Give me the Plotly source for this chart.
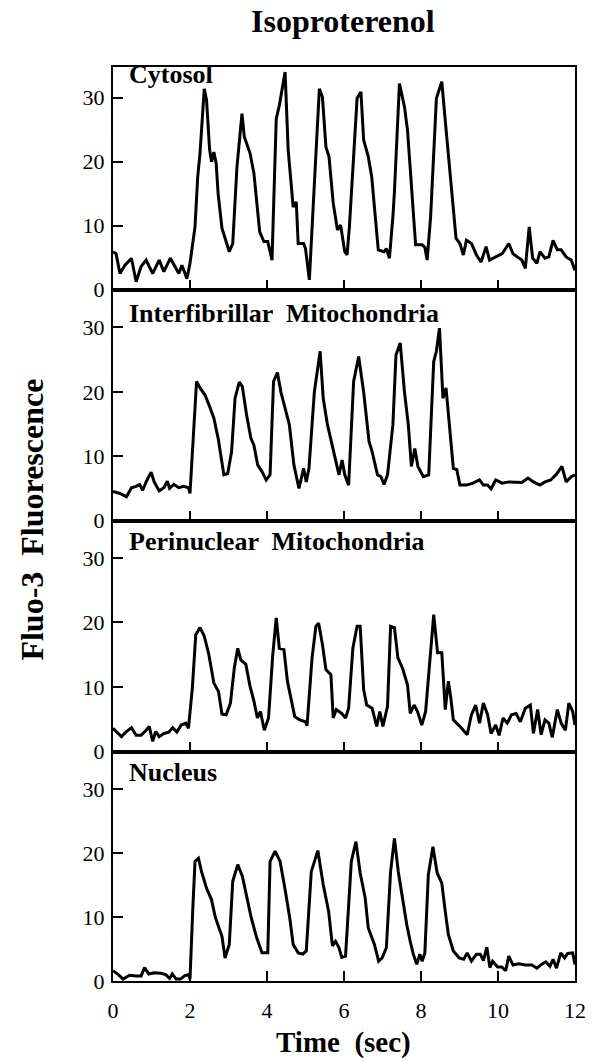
import plotly.graph_objects as go

# ---------------- data ----------------
cyto_t = [0.0, 0.08, 0.18, 0.31, 0.48, 0.60, 0.73, 0.86, 1.03, 1.20, 1.32, 1.49, 1.71, 1.79, 1.92, 2.00,
          2.13, 2.20, 2.26, 2.37, 2.43, 2.51, 2.56, 2.62, 2.68, 2.73, 2.83, 3.02, 3.11, 3.22, 3.35, 3.41,
          3.56, 3.66, 3.81, 3.92, 4.02, 4.13, 4.24, 4.32, 4.47, 4.55, 4.68, 4.76, 4.81, 4.95, 5.00, 5.10,
          5.19, 5.36, 5.44, 5.53, 5.61, 5.72, 5.83, 5.91, 6.02, 6.08, 6.14, 6.34, 6.44, 6.51, 6.63, 6.72,
          6.89, 7.04, 7.10, 7.18, 7.27, 7.31, 7.44, 7.57, 7.65, 7.74, 7.86, 8.03, 8.10, 8.16, 8.25, 8.40,
          8.54, 8.63, 8.74, 8.91, 9.01, 9.10, 9.18, 9.31, 9.44, 9.56, 9.69, 9.78, 9.94, 10.11, 10.28,
          10.39, 10.50, 10.62, 10.71, 10.81, 10.90, 11.01, 11.09, 11.22, 11.32, 11.43, 11.54, 11.64,
          11.77, 11.90, 12.0]
cyto_v = [5.9, 5.6, 2.5, 3.8, 4.9, 1.2, 3.6, 4.6, 2.5, 4.6, 2.8, 4.9, 2.5, 3.8, 1.7, 4.1,
          9.8, 17.6, 21.3, 31.4, 29.6, 21.8, 20.0, 21.5, 19.7, 15.0, 9.6, 5.9, 7.2, 19.2, 27.5, 23.9,
          21.3, 18.2, 9.0, 7.5, 7.5, 4.6, 26.7, 28.8, 34.0, 21.8, 12.9, 13.7, 7.2, 7.2, 6.4, 1.5,
          11.9, 31.4, 30.1, 22.3, 20.8, 13.5, 9.3, 10.1, 5.9, 5.4, 9.8, 29.9, 30.9, 23.4, 20.8, 17.6,
          6.2, 5.9, 6.4, 4.9, 11.4, 15.3, 32.2, 28.6, 24.9, 17.6, 7.0, 7.0, 6.6, 4.6, 11.4, 29.9,
          32.5, 26.4, 18.7, 8.0, 7.2, 5.4, 7.7, 7.2, 5.4, 4.3, 6.7, 4.6, 5.1, 5.6, 7.2,
          5.6, 5.1, 4.6, 3.3, 9.8, 4.9, 4.1, 5.9, 4.9, 5.1, 7.7, 6.2, 6.2,
          5.1, 4.6, 3.0]

inter_t = [0.0, 0.18, 0.35, 0.48, 0.60, 0.69, 0.77, 0.86, 0.99, 1.07, 1.20, 1.32, 1.41, 1.47, 1.58, 1.71,
           1.83, 1.96, 2.00, 2.09, 2.17, 2.26, 2.39, 2.51, 2.62, 2.73, 2.88, 2.98, 3.08, 3.17, 3.28, 3.36,
           3.47, 3.58, 3.66, 3.76, 3.87, 3.98, 4.08, 4.17, 4.27, 4.36, 4.47, 4.58, 4.70, 4.83, 4.95, 5.02,
           5.09, 5.23, 5.38, 5.46, 5.57, 5.72, 5.87, 5.95, 6.02, 6.12, 6.25, 6.38, 6.51, 6.65, 6.73, 6.87,
           6.96, 7.04, 7.13, 7.27, 7.35, 7.46, 7.57, 7.67, 7.75, 7.84, 7.92, 8.06, 8.20, 8.33, 8.40, 8.48,
           8.57, 8.65, 8.74, 8.84, 8.93, 9.01, 9.18, 9.35, 9.52, 9.62, 9.73, 9.82, 9.94, 10.11, 10.28,
           10.45, 10.62, 10.78, 10.92, 11.09, 11.22, 11.37, 11.52, 11.66, 11.77, 11.90, 12.0]
inter_v = [4.5, 4.2, 3.7, 5.1, 5.3, 5.6, 4.7, 6.0, 7.5, 6.0, 4.6, 5.1, 6.1, 5.0, 5.6, 5.1,
           5.3, 5.1, 4.2, 13.3, 21.6, 20.6, 19.5, 17.7, 15.9, 12.8, 7.1, 7.3, 10.7, 19.0, 21.5, 20.8,
           16.4, 12.8, 11.7, 8.6, 7.6, 6.3, 7.1, 21.6, 23.0, 20.0, 17.4, 14.9, 8.6, 5.0, 8.1, 6.0,
           8.1, 20.0, 26.3, 19.0, 14.9, 11.2, 7.1, 9.4, 7.1, 5.5, 21.6, 25.5, 20.0, 12.3, 10.7, 7.1,
           6.8, 5.6, 7.1, 14.9, 25.7, 27.6, 20.0, 14.9, 8.4, 11.2, 8.4, 6.8, 7.1, 24.7, 26.3, 29.9,
           19.0, 20.6, 14.9, 8.1, 7.9, 5.5, 5.5, 5.8, 6.3, 5.5, 5.5, 4.9, 6.3, 5.8, 6.0,
           6.0, 5.9, 6.6, 6.0, 5.5, 6.0, 6.3, 7.2, 8.4, 6.0, 6.8, 7.1]

peri_t = [0.0, 0.22, 0.35, 0.48, 0.60, 0.73, 0.86, 0.94, 1.03, 1.11, 1.20, 1.32, 1.45, 1.55, 1.66, 1.77,
          1.89, 1.96, 2.06, 2.15, 2.26, 2.37, 2.49, 2.62, 2.74, 2.83, 2.94, 3.05, 3.15, 3.24, 3.32, 3.45,
          3.56, 3.66, 3.75, 3.83, 3.93, 4.04, 4.15, 4.24, 4.32, 4.44, 4.53, 4.64, 4.72, 4.85, 5.00, 5.04,
          5.17, 5.27, 5.34, 5.44, 5.53, 5.66, 5.72, 5.80, 5.94, 6.04, 6.12, 6.23, 6.34, 6.42, 6.51, 6.59,
          6.73, 6.85, 6.93, 7.01, 7.13, 7.21, 7.31, 7.40, 7.52, 7.65, 7.72, 7.82, 7.91, 8.02, 8.12, 8.20,
          8.33, 8.43, 8.54, 8.63, 8.71, 8.77, 8.84, 9.01, 9.11, 9.20, 9.31, 9.42, 9.52, 9.62, 9.73, 9.82,
          9.94, 10.03, 10.13, 10.24, 10.35, 10.47, 10.58, 10.71, 10.84, 10.92, 11.03, 11.12, 11.22,
          11.32, 11.41, 11.54, 11.64, 11.75, 11.84, 11.94, 12.0]
peri_v = [3.6, 2.3, 3.1, 3.7, 2.5, 2.5, 3.3, 3.9, 1.6, 3.1, 2.3, 2.8, 3.0, 3.7, 3.0, 4.1,
          4.4, 3.6, 9.8, 18.1, 19.2, 17.9, 15.0, 10.6, 9.3, 5.8, 5.7, 7.5, 12.9, 16.0, 14.2, 13.5,
          10.1, 7.8, 5.2, 6.2, 3.3, 5.2, 15.0, 20.7, 16.0, 15.8, 10.9, 7.8, 5.4, 4.9, 4.6, 4.0,
          14.5, 19.4, 19.9, 16.6, 12.7, 11.9, 5.2, 6.5, 5.9, 5.2, 6.7, 16.0, 19.4, 19.4, 9.6, 7.2,
          6.7, 3.9, 6.2, 3.9, 7.0, 19.4, 19.2, 14.5, 12.9, 10.3, 5.9, 7.2, 6.2, 4.1, 6.2, 11.9,
          21.2, 15.3, 15.3, 6.5, 10.9, 8.5, 4.9, 3.9, 3.3, 2.6, 5.7, 7.2, 4.4, 7.5, 5.7, 2.8,
          4.1, 2.5, 5.2, 4.4, 5.7, 5.9, 4.6, 6.7, 7.2, 2.8, 6.5, 2.6, 4.9,
          4.4, 2.2, 6.5, 4.4, 3.3, 7.5, 6.2, 4.1]

nuc_t = [0.0, 0.14, 0.26, 0.43, 0.60, 0.73, 0.82, 0.93, 1.07, 1.24, 1.37, 1.47, 1.54, 1.64, 1.75, 1.86,
         1.96, 2.00, 2.07, 2.13, 2.22, 2.30, 2.43, 2.56, 2.66, 2.83, 2.91, 3.02, 3.11, 3.24, 3.36, 3.49,
         3.59, 3.73, 3.87, 4.02, 4.08, 4.21, 4.34, 4.47, 4.59, 4.68, 4.81, 4.93, 5.02, 5.15, 5.32, 5.46,
         5.60, 5.70, 5.78, 5.87, 5.94, 6.04, 6.19, 6.31, 6.42, 6.55, 6.63, 6.79, 6.90, 6.99, 7.10, 7.21,
         7.31, 7.41, 7.52, 7.63, 7.72, 7.80, 7.89, 7.97, 8.03, 8.10, 8.19, 8.31, 8.42, 8.54, 8.63, 8.71,
         8.84, 8.99, 9.11, 9.20, 9.31, 9.44, 9.54, 9.62, 9.71, 9.79, 9.86, 9.99, 10.10, 10.20, 10.28,
         10.39, 10.54, 10.71, 10.88, 11.01, 11.13, 11.24, 11.35, 11.43, 11.52, 11.63, 11.73, 11.81,
         11.94, 12.0]
nuc_v = [1.6, 1.0, 0.3, 0.9, 0.8, 0.8, 2.1, 1.1, 1.3, 1.2, 1.0, 0.4, 1.1, 0.3, 0.3, 0.8,
         1.0, 0.3, 10.9, 18.7, 19.2, 17.1, 14.5, 12.7, 9.9, 7.0, 3.6, 5.7, 15.6, 18.2, 16.4, 13.0,
         9.9, 6.8, 4.4, 4.4, 18.7, 20.3, 18.7, 14.3, 9.9, 5.7, 4.4, 4.2, 4.7, 17.1, 20.4, 15.1,
         10.9, 5.5, 6.2, 5.2, 3.7, 3.9, 18.7, 21.8, 16.9, 13.0, 8.3, 5.7, 3.1, 3.6, 5.2, 17.1,
         22.3, 17.1, 13.0, 8.8, 6.2, 4.2, 2.6, 4.2, 3.1, 4.4, 16.6, 21.0, 16.9, 15.3, 10.9, 7.3,
         4.7, 3.6, 3.4, 4.4, 3.1, 4.2, 4.2, 3.2, 5.3, 2.1, 3.1, 2.2, 2.2, 1.6, 3.9,
         2.5, 2.7, 2.5, 2.5, 2.0, 2.6, 3.0, 2.3, 3.4, 2.0, 4.4, 3.6, 4.3,
         4.4, 2.6]

panel_names = ["Cytosol", "Interfibrillar  Mitochondria", "Perinuclear  Mitochondria", "Nucleus"]
x_ticks = [0, 2, 4, 6, 8, 10, 12]
y_ticks = [0, 10, 20, 30]
title_text = "Isoproterenol"
x_title = "Time  (sec)"
y_title = "Fluo-3  Fluorescence"

series = [(cyto_t, cyto_v), (inter_t, inter_v), (peri_t, peri_v), (nuc_t, nuc_v)]

# ---------------- layout ----------------
W, H = 598, 1061
ML, MR, MT, MB = 113, 14, 67, 80
plot_h = H - MT - MB
px_to_paper_y = lambda py: (H - MB - py) / plot_h
px_to_paper_x = lambda px: (px - ML) / (W - ML - MR)

bounds = [67, 289.5, 520.5, 751.5, 981]
y_tops = [34.8, 35.9, 35.8, 35.9]
label_top = [58, 297, 525, 756]

FONT = "Liberation Serif"
fig = go.Figure()
for i, (t, v) in enumerate(series):
    n = i + 1
    xa = "x" if n == 1 else f"x{n}"
    ya = "y" if n == 1 else f"y{n}"
    fig.add_trace(go.Scatter(x=t, y=v, mode="lines", xaxis=xa, yaxis=ya,
                             line=dict(color="black", width=3), showlegend=False,
                             hoverinfo="skip"))
    dom = [px_to_paper_y(bounds[i + 1]), px_to_paper_y(bounds[i])]
    xkey = "xaxis" if n == 1 else f"xaxis{n}"
    ykey = "yaxis" if n == 1 else f"yaxis{n}"
    fig.layout[xkey] = dict(domain=[0, 1], anchor=ya, range=[0, 12], tickvals=x_ticks,
                            ticks="inside", ticklen=10, tickwidth=2, tickcolor="black",
                            showline=True, linewidth=2, linecolor="black", mirror=True,
                            showgrid=False, zeroline=False, showticklabels=(n == 4),
                            ticklabelstandoff=9,
                            tickfont=dict(family=FONT, size=22, color="black"))
    fig.layout[ykey] = dict(domain=dom, anchor=xa, range=[0, y_tops[i]], tickvals=y_ticks,
                            ticks="inside", ticklen=10, tickwidth=2, tickcolor="black",
                            showline=True, linewidth=2, linecolor="black", mirror=True,
                            showgrid=False, zeroline=False, ticklabelstandoff=2,
                            tickfont=dict(family=FONT, size=22, color="black"))
    fig.add_annotation(text=panel_names[i], xref="paper", yref="paper",
                       x=px_to_paper_x(127), y=px_to_paper_y(label_top[i]),
                       xanchor="left", yanchor="top", showarrow=False,
                       font=dict(family=FONT, size=26, color="black", weight="bold"))

fig.add_annotation(text=title_text, xref="paper", yref="paper",
                   x=px_to_paper_x(347), y=px_to_paper_y(21), xanchor="center", yanchor="middle",
                   showarrow=False, font=dict(family=FONT, size=32, color="black", weight="bold"))
fig.add_annotation(text=x_title, xref="paper", yref="paper",
                   x=px_to_paper_x(348), y=px_to_paper_y(1042), xanchor="center", yanchor="middle",
                   showarrow=False, font=dict(family=FONT, size=29, color="black", weight="bold"))
fig.add_annotation(text=y_title, xref="paper", yref="paper", textangle=-90,
                   x=px_to_paper_x(30), y=px_to_paper_y(520), xanchor="center", yanchor="middle",
                   showarrow=False, font=dict(family=FONT, size=32, color="black", weight="bold"))

fig.update_layout(width=W, height=H, margin=dict(l=ML, r=MR, t=MT, b=MB),
                  paper_bgcolor="white", plot_bgcolor="white")
fig.write_html("out.html")
